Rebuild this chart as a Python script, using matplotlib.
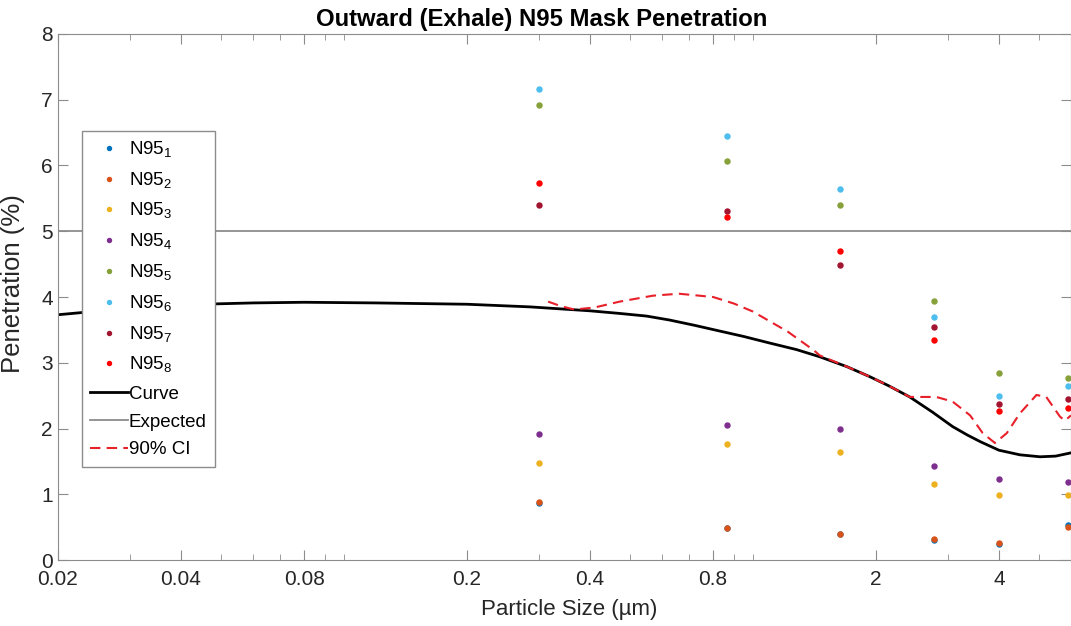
import matplotlib
matplotlib.use("Agg")
import matplotlib.pyplot as plt
import matplotlib.ticker as mticker
import numpy as np

plt.rcParams['font.family'] = ['Liberation Sans', 'DejaVu Sans']
plt.rcParams['mathtext.fontset'] = 'custom'
plt.rcParams['mathtext.rm'] = 'Liberation Sans'

# particle sizes (um) of the measured bins
sizes = [0.30, 0.865, 1.63, 2.77, 4.0, 5.9]

# penetration (%) per mask
n95 = {
    '1': [0.86, 0.48, 0.39, 0.31, 0.25, 0.53],
    '2': [0.88, 0.49, 0.40, 0.32, 0.26, 0.50],
    '3': [1.47, 1.76, 1.65, 1.16, 0.99, 0.99],
    '4': [1.92, 2.06, 2.00, 1.43, 1.23, 1.19],
    '5': [6.92, 6.07, 5.40, 3.94, 2.85, 2.77],
    '6': [7.16, 6.45, 5.65, 3.70, 2.49, 2.64],
    '7': [5.40, 5.31, 4.48, 3.55, 2.37, 2.45],
    '8': [5.74, 5.22, 4.70, 3.34, 2.26, 2.31],
}
colors = ['#0072BD', '#D95319', '#EDB120', '#7E2F8E',
          '#86A03A', '#4DBEEE', '#A2142F', '#FF0000']

# fitted curve
curve_x = [0.02, 0.03, 0.045, 0.06, 0.08, 0.12, 0.2, 0.285, 0.4, 0.473, 0.55,
           0.626, 0.72, 0.82, 0.95, 1.10, 1.28, 1.46, 1.7, 1.93, 2.15, 2.42,
           2.75, 3.08, 3.35, 3.6, 4.0, 4.5, 5.04, 5.5, 6.0]
curve_y = [3.73, 3.83, 3.89, 3.91, 3.92, 3.91, 3.89, 3.85, 3.79, 3.75, 3.71,
           3.65, 3.57, 3.49, 3.40, 3.30, 3.20, 3.09, 2.94, 2.79, 2.65, 2.48,
           2.25, 2.03, 1.90, 1.80, 1.67, 1.60, 1.57, 1.58, 1.63]

# 90% confidence bound
ci_x = [0.316, 0.34, 0.366, 0.41, 0.473, 0.57, 0.66, 0.8, 0.9, 1.0, 1.22,
        1.41, 1.46, 1.7, 1.93, 2.15, 2.42, 2.81, 3.08, 3.40, 3.65, 3.91,
        4.18, 4.5, 4.94, 5.22, 5.64, 5.8, 6.0]
ci_y = [3.93, 3.86, 3.81, 3.84, 3.93, 4.02, 4.05, 4.00, 3.90, 3.78, 3.47,
        3.19, 3.11, 2.94, 2.79, 2.65, 2.48, 2.48, 2.41, 2.20, 1.93, 1.78,
        1.93, 2.23, 2.51, 2.48, 2.18, 2.12, 2.2]

expected = 5

x_ticks = [0.02, 0.04, 0.08, 0.2, 0.4, 0.8, 2, 4]
x_ticklabels = ['0.02', '0.04', '0.08', '0.2', '0.4', '0.8', '2', '4']

fig = plt.figure(figsize=(10.71, 6.26), dpi=100)
ax = fig.add_axes([0.054, 0.1054, 0.946, 0.8403])

handles = []
for (k, vals), c in zip(n95.items(), colors):
    h, = ax.plot(sizes, vals, linestyle='none', marker='o', markersize=3.6,
                 color=c, label='N95$_{' + k + '}$')
    handles.append(h)

h_curve, = ax.plot(curve_x, curve_y, color='black', linewidth=2, label='Curve')
h_exp = ax.axhline(expected, color='#8c8c8c', linewidth=1.3, label='Expected')
h_ci, = ax.plot(ci_x, ci_y, color='#E8202A', linestyle='--', linewidth=1.5,
                dashes=(5, 3), label='90% CI')
handles += [h_curve, h_exp, h_ci]

ax.set_xscale('log')
ax.set_xlim(0.02, 6.0)
ax.set_ylim(0, 8)
ax.xaxis.set_major_locator(mticker.FixedLocator(x_ticks))
ax.xaxis.set_major_formatter(mticker.FixedFormatter(x_ticklabels))
ax.xaxis.set_minor_locator(mticker.LogLocator(base=10, subs=np.arange(1, 10)))
ax.xaxis.set_minor_formatter(mticker.NullFormatter())
ax.set_yticks(range(0, 9))

for s in ax.spines.values():
    s.set_color('#8c8c8c')
ax.tick_params(which='both', direction='in', top=True, right=True,
               color='#8c8c8c', labelcolor='#262626', labelsize=15)
ax.tick_params(which='major', length=7)
ax.tick_params(which='minor', length=4)
ax.tick_params(axis='x', pad=7)

ax.set_title('Outward (Exhale) N95 Mask Penetration', fontsize=17.2,
             fontweight='bold', color='black', pad=6, x=0.478)
ax.set_xlabel('Particle Size (µm)', fontsize=16, color='#262626', labelpad=2)
ax.xaxis.set_label_coords(0.505, -0.075)
ax.set_ylabel('Penetration (%)', fontsize=18.5, color='#262626', labelpad=4)
ax.yaxis.set_label_coords(-0.032, 0.525)

leg = ax.legend(handles=handles, loc='upper left',
                bbox_to_anchor=(0.0237, 0.8156), borderaxespad=0,
                fontsize=13.5, frameon=True, fancybox=False, framealpha=1,
                edgecolor='#8c8c8c', handlelength=2.0, handletextpad=0.05,
                labelspacing=0.56, borderpad=0.45, markerscale=0.8)
leg.get_frame().set_linewidth(1)

fig.savefig('out.png', dpi=100)
